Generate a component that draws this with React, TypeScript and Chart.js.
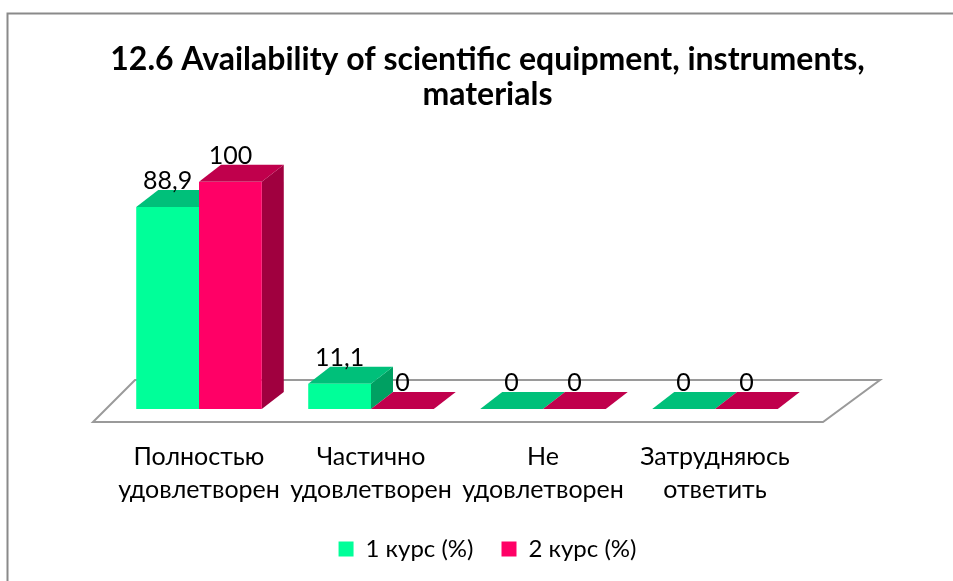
import React, { useEffect, useRef } from "react";
import { Chart, registerables } from "chart.js";

Chart.register(...registerables);

const categories = [
  ["Полностью", "удовлетворен"],
  ["Частично", "удовлетворен"],
  ["Не", "удовлетворен"],
  ["Затрудняюсь", "ответить"],
];
const seriesNames = ["1 курс (%)", "2 курс (%)"];
const course1 = [88.9, 11.1, 0, 0];
const course2 = [100, 0, 0, 0];
const titleLines = ["12.6 Availability of scientific equipment, instruments,", "materials"];

const FRONT = ["#00FF99", "#FF0066"];
const TOP = ["#00C07A", "#C0004C"];
const SIDE = ["#00A062", "#A0003F"];
const DX = 22;
const DY = -17;
const FONT = "Lato, 'Open Sans', sans-serif";

const fmt = (v: number) => String(v).replace(".", ",");

const threeD = {
  id: "threeD",
  beforeDraw(chart: any) {
    const ctx = chart.ctx;
    ctx.save();
    ctx.fillStyle = "#fff";
    ctx.fillRect(0, 0, chart.width, chart.height);
    ctx.strokeStyle = "#8a8a8a";
    ctx.lineWidth = 2;
    ctx.strokeRect(7.5, 13.5, 2000, 2000);
    ctx.restore();
  },
  beforeDatasetsDraw(chart: any) {
    const ctx = chart.ctx;
    const { left, right } = chart.chartArea;
    const y0 = chart.scales.y.getPixelForValue(0);
    const fl = left - 20;
    const fr = right + 22;
    const fy = y0 + 13;
    const by = y0 - 29;
    ctx.save();
    ctx.beginPath();
    ctx.moveTo(fl, fy);
    ctx.lineTo(fr, fy);
    ctx.lineTo(fr + 57, by);
    ctx.lineTo(fl + 42, by);
    ctx.closePath();
    ctx.fillStyle = "#fff";
    ctx.fill();
    ctx.strokeStyle = "#9a9a9a";
    ctx.lineWidth = 2;
    ctx.stroke();
    chart.data.datasets.forEach((_ds: any, di: number) => {
      const meta = chart.getDatasetMeta(di);
      meta.data.forEach((bar: any) => {
        const { x, y, base, width } = bar.getProps(["x", "y", "base", "width"], true);
        const l = x - width / 2;
        const r = x + width / 2;
        ctx.fillStyle = SIDE[di];
        ctx.beginPath();
        ctx.moveTo(r, y);
        ctx.lineTo(r + DX, y + DY);
        ctx.lineTo(r + DX, base + DY);
        ctx.lineTo(r, base);
        ctx.closePath();
        ctx.fill();
        ctx.fillStyle = TOP[di];
        ctx.beginPath();
        ctx.moveTo(l, y);
        ctx.lineTo(r, y);
        ctx.lineTo(r + DX, y + DY);
        ctx.lineTo(l + DX, y + DY);
        ctx.closePath();
        ctx.fill();
      });
    });
    ctx.restore();
  },
  afterDatasetsDraw(chart: any) {
    const ctx = chart.ctx;
    ctx.save();
    ctx.font = `25px ${FONT}`;
    ctx.fillStyle = "#000";
    ctx.textAlign = "center";
    ctx.textBaseline = "middle";
    chart.data.datasets.forEach((ds: any, di: number) => {
      const meta = chart.getDatasetMeta(di);
      meta.data.forEach((bar: any, i: number) => {
        const { x, y } = bar.getProps(["x", "y"], true);
        ctx.fillText(fmt(ds.data[i]), x, y + DY - 9);
      });
    });
    ctx.restore();
  },
};

const hiddenAxis = (w: number, position: string) => ({
  type: "linear",
  position,
  display: true,
  min: 0,
  max: 100,
  grid: { display: false, drawTicks: false },
  border: { display: false },
  ticks: { display: false },
  afterFit: (s: any) => {
    s.width = w;
  },
});

export default function App() {
  const ref = useRef<HTMLCanvasElement>(null);
  useEffect(() => {
    const chart = new Chart(ref.current as HTMLCanvasElement, {
      type: "bar",
      data: {
        labels: categories,
        datasets: [
          { label: seriesNames[0], data: course1, backgroundColor: FRONT[0], borderWidth: 0 },
          { label: seriesNames[1], data: course2, backgroundColor: FRONT[1], borderWidth: 0 },
        ],
      },
      options: {
        animation: false,
        responsive: false,
        layout: { padding: { left: 22, right: 0, top: 0, bottom: 10 } },
        datasets: { bar: { categoryPercentage: 0.73, barPercentage: 1.0 } },
        scales: {
          x: {
            grid: { display: false, drawTicks: false },
            border: { display: false },
            ticks: {
              padding: 31,
              color: "#000",
              font: { family: FONT, size: 25, lineHeight: 1.32 },
              maxRotation: 0,
              autoSkip: false,
            },
            afterFit: (s: any) => {
              s.height = 100;
            },
          },
          y: hiddenAxis(91, "left") as any,
          y2: hiddenAxis(152, "right") as any,
        },
        plugins: {
          legend: {
            position: "bottom",
            labels: {
              boxWidth: 15,
              boxHeight: 15,
              padding: 28,
              color: "#000",
              font: { family: FONT, size: 24 },
            },
          },
          title: {
            display: true,
            text: titleLines,
            color: "#000",
            font: { family: FONT, size: 32, weight: "bold", lineHeight: 1.09 },
            padding: { top: 42, bottom: 70 },
          },
          tooltip: { enabled: false },
        },
      },
      plugins: [threeD],
    });
    return () => chart.destroy();
  }, []);
  return (
    <div style={{ position: "absolute", left: 0, top: 0, width: 953, height: 581 }}>
      <canvas ref={ref} width={953} height={581} />
    </div>
  );
}
